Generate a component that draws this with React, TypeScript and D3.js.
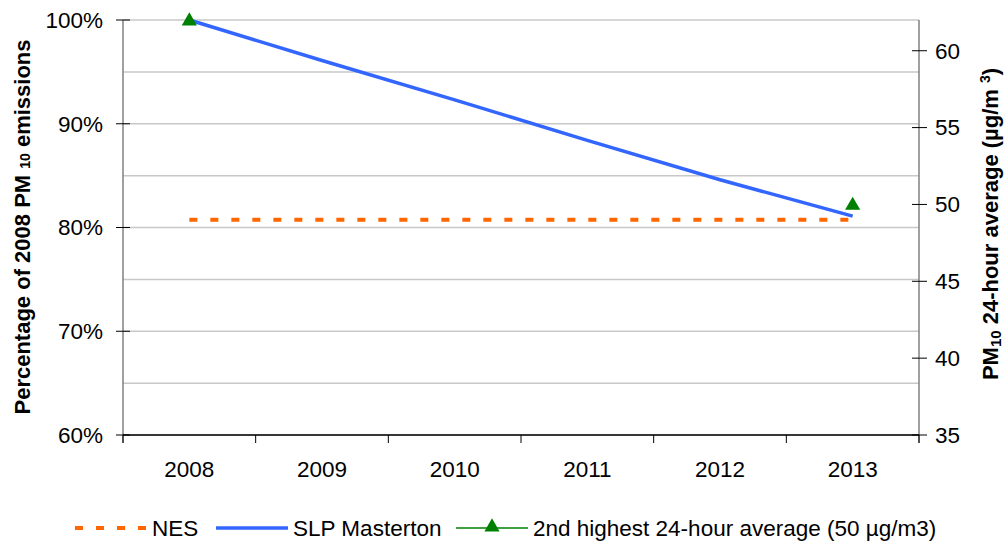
import React from "react";
import * as d3 from "d3";

const years = ["2008", "2009", "2010", "2011", "2012", "2013"];
const slpMasterton = [1.0, 0.961, 0.923, 0.884, 0.846, 0.811];
const nes = [0.8075, 0.8075, 0.8075, 0.8075, 0.8075, 0.8075];
const secondHighest: (number | null)[] = [62, null, null, null, null, 50];
const leftTicks = [0.6, 0.7, 0.8, 0.9, 1.0];
const gridTicks = [0.6, 0.65, 0.7, 0.75, 0.8, 0.85, 0.9, 0.95, 1.0];
const rightTicks = [35, 40, 45, 50, 55, 60];

const W = 1004, H = 542;
const L = 123, R = 919, T = 20, B = 435;
const FONT = "'Liberation Sans', Arial, sans-serif";
const FS = 22.5;

export default function App() {
  const x = d3.scaleBand<string>().domain(years).range([L, R]);
  const cx = (d: string) => (x(d) as number) + x.bandwidth() / 2;
  const yL = d3.scaleLinear().domain([0.6, 1.0]).range([B, T]);
  const yR = d3.scaleLinear().domain([35, 62]).range([B, T]);
  const lineL = d3.line<number>().x((_, i) => cx(years[i])).y((v) => yL(v));
  const tri = d3.symbol().type(d3.symbolTriangle).size(100)() as string;
  const boundaries = years.map((d) => x(d) as number).concat([R]);
  const fmt = d3.format(".0%");

  return (
    <svg width={W} height={H} style={{ display: "block", position: "absolute", left: 0, top: 0 }} fontFamily={FONT}>
      <rect width={W} height={H} fill="#fff" />
      {gridTicks.map((t) => (
        <line key={t} x1={L} x2={R} y1={yL(t)} y2={yL(t)} stroke="#c8c8c8" strokeWidth={1.5} />
      ))}
      {/* left axis */}
      <line x1={L} x2={L} y1={T} y2={B + 8} stroke="#808080" strokeWidth={1.5} />
      {leftTicks.map((t) => (
        <g key={t}>
          <line x1={L - 7} x2={L + 7} y1={yL(t)} y2={yL(t)} stroke="#000" strokeWidth={1} />
          <text x={103} y={yL(t)} dy="0.35em" textAnchor="end" fontSize={FS} fill="#000">{fmt(t)}</text>
        </g>
      ))}
      {/* right axis */}
      <line x1={R} x2={R} y1={T} y2={B + 8} stroke="#808080" strokeWidth={1.5} />
      {rightTicks.map((t) => (
        <g key={t}>
          <line x1={R - 7} x2={R + 8} y1={yR(t)} y2={yR(t)} stroke="#000" strokeWidth={1} />
          <text x={935} y={yR(t)} dy="0.35em" textAnchor="start" fontSize={FS} fill="#000">{t}</text>
        </g>
      ))}
      {/* bottom axis */}
      <line x1={L} x2={R} y1={B} y2={B} stroke="#000" strokeWidth={1.5} />
      {boundaries.map((b, i) => (
        <line key={i} x1={b} x2={b} y1={B} y2={B + 8} stroke="#000" strokeWidth={1} />
      ))}
      {years.map((d) => (
        <text key={d} x={cx(d)} y={469} dy="0.35em" textAnchor="middle" fontSize={FS} fill="#000">{d}</text>
      ))}
      {/* series */}
      <path d={lineL(nes) as string} fill="none" stroke="#ff6600" strokeWidth={4} strokeDasharray="8 13" />
      <path d={lineL(slpMasterton) as string} fill="none" stroke="#3366ff" strokeWidth={3.5} />
      {secondHighest.map((v, i) =>
        v == null ? null : (
          <path key={i} d={tri} transform={`translate(${cx(years[i])},${yR(v) + 1})`} fill="#008000" />
        )
      )}
      {/* axis titles */}
      <text transform="translate(30,227) rotate(-90)" textAnchor="middle" fontSize={22} fontWeight="bold" fill="#000">
        Percentage of 2008 PM <tspan fontSize={14}>10</tspan> emissions
      </text>
      <text transform="translate(998,224) rotate(-90)" textAnchor="middle" fontSize={22} fontWeight="bold" fill="#000">
        PM<tspan fontSize={15} dy={3}>10</tspan><tspan dy={-3}> 24-hour average (µg/m </tspan><tspan fontSize={14} dy={-8}>3</tspan><tspan dy={8}>)</tspan>
      </text>
      {/* legend */}
      <g fontSize={FS} fill="#000">
        <line x1={75} x2={147} y1={528} y2={528} stroke="#ff6600" strokeWidth={4} strokeDasharray="8 13" />
        <text x={152} y={528} dy="0.35em">NES</text>
        <line x1={216} x2={288} y1={528} y2={528} stroke="#3366ff" strokeWidth={3.5} />
        <text x={293} y={528} dy="0.35em">SLP Masterton</text>
        <line x1={456} x2={528} y1={528} y2={528} stroke="#008000" strokeWidth={1.5} />
        <path d={tri} transform="translate(492,527)" fill="#008000" />
        <text x={533} y={528} dy="0.35em">2nd highest 24-hour average (50 µg/m3)</text>
      </g>
    </svg>
  );
}
